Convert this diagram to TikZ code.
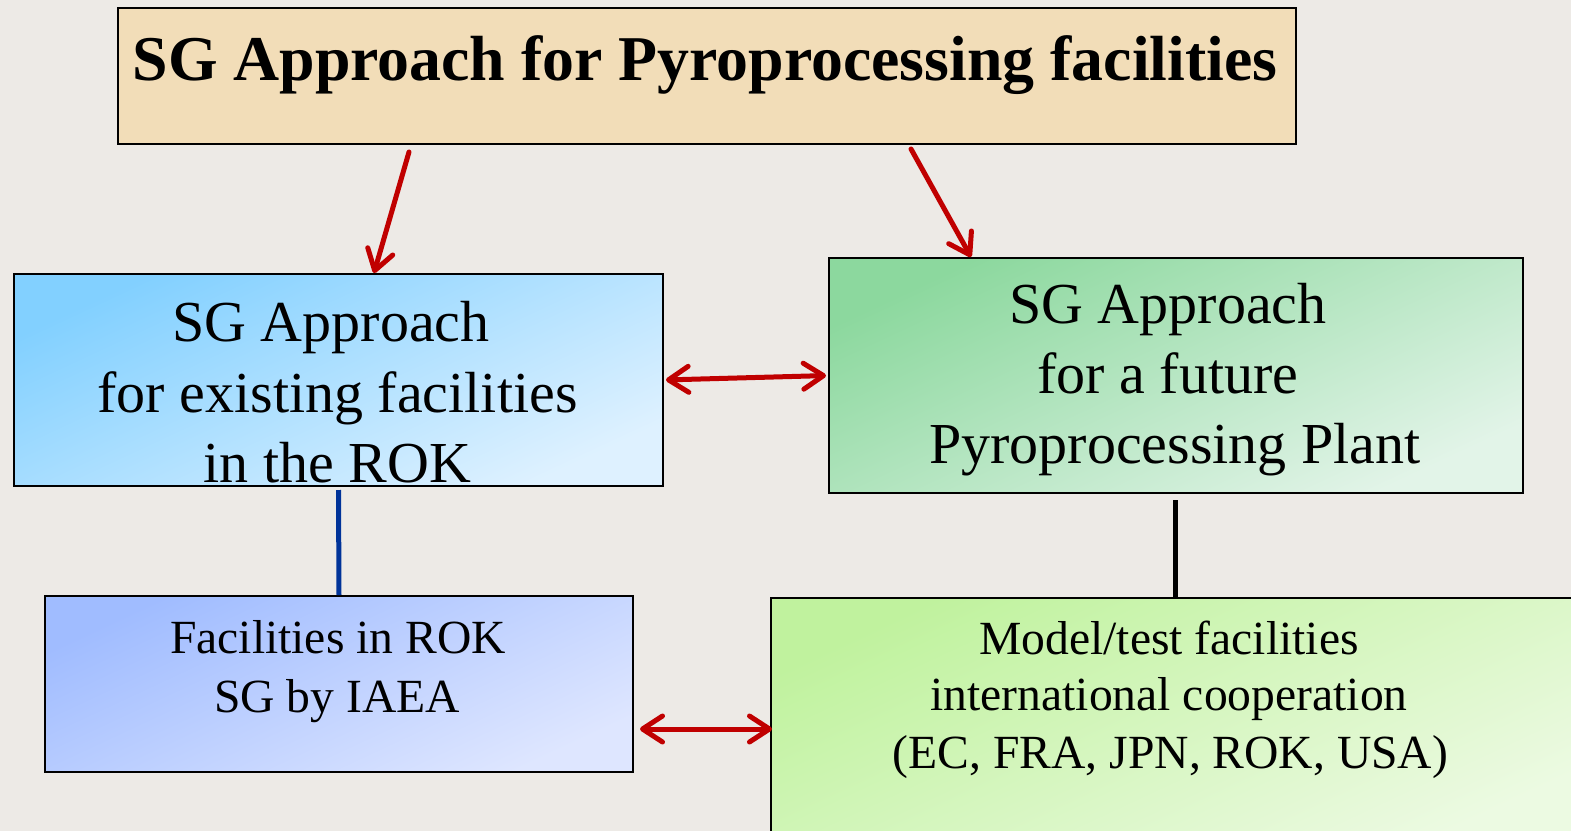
\documentclass[tikz,border=0pt]{standalone}
\usepackage{fontspec}
\setmainfont{Liberation Serif}
\usetikzlibrary{arrows.meta,calc}
\definecolor{bg}{RGB}{237,234,230}
\definecolor{titlefill}{RGB}{242,221,184}
\definecolor{arrowred}{RGB}{192,0,0}
\definecolor{lineblue}{RGB}{0,51,153}
\definecolor{lbA}{RGB}{130,208,255}
\definecolor{lbB}{RGB}{222,241,255}
\definecolor{rgA}{RGB}{140,216,158}
\definecolor{rgB}{RGB}{226,244,232}
\definecolor{blA}{RGB}{160,188,255}
\definecolor{blB}{RGB}{222,230,255}
\definecolor{brA}{RGB}{192,242,158}
\definecolor{brB}{RGB}{236,250,226}
\begin{document}
\begin{tikzpicture}[x=0.5pt,y=-0.5pt,
  box/.style={draw=black, line width=1pt, rectangle, inner sep=0pt, anchor=north west},
  grad/.style 2 args={top color=#1, bottom color=#2, shading angle=25},
  txt/.style={anchor=base, inner sep=0pt, font=\fontsize{29}{35}\selectfont},
  txs/.style={anchor=base, inner sep=0pt, font=\fontsize{23.8}{29}\selectfont},
  redarrow/.style={draw=arrowred, line width=2.5pt, line cap=round,
    -{Straight Barb[length=10pt,width=13pt,round]}},
  dblarrow/.style={draw=arrowred, line width=2.5pt, line cap=round,
    {Straight Barb[length=10pt,width=13pt,round]}-{Straight Barb[length=10pt,width=13pt,round]}},
  link/.style={line width=2.5pt},
]
\useasboundingbox (0,0) rectangle (1571,831);
\clip (0,0) rectangle (1571,831);
\fill[bg] (0,0) rectangle (1571,831);

% boxes
\node[box, fill=titlefill, minimum width=589pt, minimum height=68pt] (title) at (117,7) {};
\node[box, grad={lbA}{lbB}, minimum width=324.5pt, minimum height=106pt] (left) at (13,273) {};
\node[box, grad={rgA}{rgB}, minimum width=347pt, minimum height=117.5pt] (right) at (828,257) {};
\node[box, grad={blA}{blB}, minimum width=294pt, minimum height=88pt] (bl) at (44,595) {};
\node[box, grad={brA}{brB}, minimum width=404pt, minimum height=125pt] (br) at (770,597) {};

% texts
\node[anchor=base, inner sep=0pt, font=\bfseries\fontsize{31.9}{38}\selectfont] (ttitle) at (705,80) {SG Approach for Pyroprocessing facilities};

\node[txt] (l1) at (331,341) {SG Approach};
\node[txt] (l2) at (337.5,412) {for existing facilities};
\node[txt] (l3) at (337.5,482) {in the ROK};

\node[txt] (r1) at (1168,323) {SG Approach};
\node[txt] (r2) at (1168,393) {for a future};
\node[txt] (r3) at (1175,463) {Pyroprocessing Plant};

\node[txs] (b1) at (338,653) {Facilities in ROK};
\node[txs] (b2) at (337,712) {SG by IAEA};

\node[txs] (c1) at (1169,654) {Model/test facilities};
\node[txs] (c2) at (1169,710) {international cooperation};
\node[txs] (c3) at (1170.5,768) {(EC, FRA, JPN, ROK, USA)};

% connectors
\draw[redarrow] ([shift={(-298,7)}]title.south) -- ([shift={(35.5,0)}]left.north);
\draw[redarrow] ([shift={(204,4)}]title.south) -- ([shift={(-205,0)}]right.north);
\draw[dblarrow, shorten <=1pt, shorten >=1pt] (left.east) -- (right.west);
\draw[dblarrow] ([shift={(6,45)}]bl.east) -- ([shift={(2,6)}]br.west);
\draw[link, lineblue] ([shift={(0,3)}]left.south) -- (bl.north);
\draw[link, black] ([shift={(-1,6)}]right.south) -- (br.north);
\end{tikzpicture}
\end{document}
